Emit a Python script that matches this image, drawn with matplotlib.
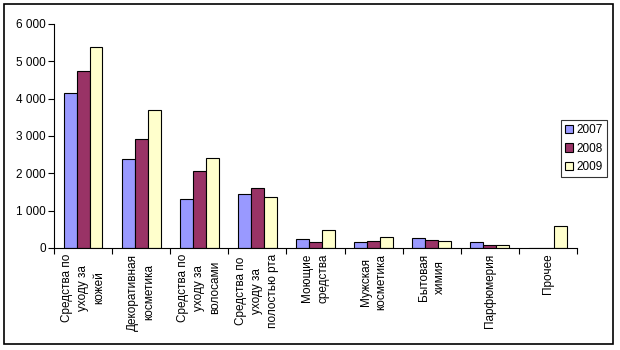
import matplotlib
matplotlib.use("Agg")
import numpy as np
from matplotlib import pyplot as plt
from matplotlib.patches import Rectangle
from matplotlib.ticker import FuncFormatter, FixedLocator

plt.rcParams['font.family'] = ['Liberation Sans', 'DejaVu Sans']
plt.rcParams['font.size'] = 8

categories = ['Средства по\nуходу за\nкожей', 'Декоративная\nкосметика',
              'Средства по\nуходу за\nволосами', 'Средства по\nуходу за\nполостью рта',
              'Моющие\nсредства', 'Мужская\nкосметика', 'Бытовая\nхимия',
              'Парфюмерия', 'Прочее']
years = ['2007', '2008', '2009']
v2007 = [4140, 2380, 1300, 1440, 240, 160, 270, 160, 0]
v2008 = [4750, 2920, 2060, 1600, 160, 190, 220, 80, 0]
v2009 = [5380, 3700, 2410, 1360, 480, 290, 190, 80, 590]
colors = ['#9999FF', '#993366', '#FFFFCC']

fig = plt.figure(figsize=(6.2, 3.5), dpi=100)
fig.patches.append(Rectangle((4 / 620, 1 - 344 / 350), 609 / 620, 340 / 350,
                             transform=fig.transFigure, fill=False,
                             edgecolor='black', linewidth=1.2))
ax = fig.add_axes([54 / 620, 1 - 248 / 350, 523 / 620, 224 / 350])

x = np.arange(len(categories))
w = 1 / 4.5
for i, (vals, c, yr) in enumerate(zip([v2007, v2008, v2009], colors, years)):
    ax.bar(x + (i - 1) * w, vals, w, color=c, edgecolor='black',
           linewidth=0.8, label=yr)

ax.set_xlim(-0.5, len(categories) - 0.5)
ax.set_ylim(0, 6000)
ax.set_yticks(np.arange(0, 6001, 1000))
ax.yaxis.set_major_formatter(FuncFormatter(lambda v, p: f"{int(v):,}".replace(',', ' ')))
ax.tick_params(axis='y', length=4, width=0.8, pad=2, labelsize=8.5)

ax.set_xticks(x)
ax.set_xticklabels(categories, rotation=90, va='top', ha='center',
                   multialignment='center', fontsize=8.5, linespacing=1.45)
ax.tick_params(axis='x', which='major', length=0, pad=4)
ax.xaxis.set_minor_locator(FixedLocator(np.arange(-0.5, len(categories), 1)))
ax.tick_params(axis='x', which='minor', length=4, width=0.8)

for s in ['top', 'right']:
    ax.spines[s].set_visible(False)
for s in ['left', 'bottom']:
    ax.spines[s].set_linewidth(0.8)

leg = fig.legend(loc='upper left', bbox_to_anchor=(561 / 620, 1 - 120 / 350),
                 frameon=True, fancybox=False, edgecolor='black',
                 handlelength=0.7, handleheight=0.7, handletextpad=0.25,
                 borderpad=0.35, labelspacing=0.55, fontsize=8.5, borderaxespad=0)
leg.get_frame().set_linewidth(0.8)

plt.savefig("out.png", dpi=100)
